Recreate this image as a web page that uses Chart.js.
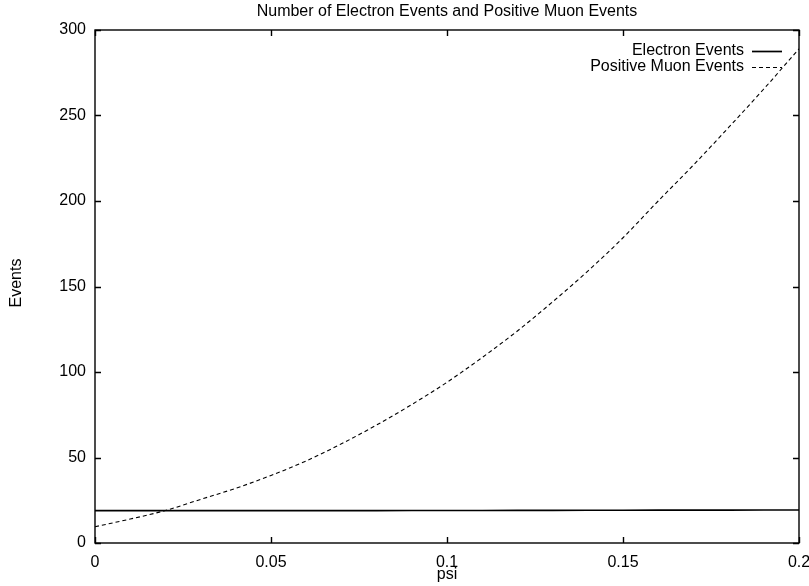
<!DOCTYPE html>
<html>
<head>
<meta charset="utf-8">
<script src="https://cdn.jsdelivr.net/npm/chart.js@4/dist/chart.umd.min.js"></script>
<style>
  html, body { margin: 0; padding: 0; background: #fff; }
  canvas { display: block; }
</style>
</head>
<body>
<canvas id="c" width="809" height="586"></canvas>
<script>
// psi values sampled along the x axis
const psi = [0, 0.01, 0.02, 0.03, 0.04, 0.05, 0.06, 0.07, 0.08, 0.09, 0.1,
             0.11, 0.12, 0.13, 0.14, 0.15, 0.16, 0.17, 0.18, 0.19, 0.2];
// number of electron events at each psi
const electronEvents = [18.9, 18.9, 18.9, 18.9, 18.9, 18.95, 18.95, 18.95, 18.95, 19.0, 19.0,
                        19.0, 19.05, 19.1, 19.15, 19.15, 19.2, 19.2, 19.25, 19.3, 19.3];
// number of positive muon events at each psi
const muonEvents = [9.5, 14, 19, 25.5, 32, 39.5, 48, 58, 69, 81, 94,
                    108.5, 124, 141, 159, 178.5, 200, 221, 243, 265.5, 289];
const xTicks = [0, 0.05, 0.1, 0.15, 0.2];
const yTicks = [0, 50, 100, 150, 200, 250, 300];
const seriesNames = ['Electron Events', 'Positive Muon Events'];

const FONT = 'Liberation Sans, Arial, Helvetica, sans-serif';

// frame, inward tick marks, title, axis titles and key drawn on top of the plot
const gnuplotFrame = {
  id: 'gnuplotFrame',
  afterDraw(chart) {
    const { ctx, chartArea: a, scales } = chart;
    const xs = scales.x, ys = scales.y;
    ctx.save();
    ctx.strokeStyle = '#000';
    ctx.lineWidth = 1.4;
    ctx.strokeRect(a.left, a.top, a.right - a.left, a.bottom - a.top);
    const tl = 6;
    ctx.beginPath();
    xTicks.forEach(v => {
      const px = Math.round(xs.getPixelForValue(v)) + 0.5;
      ctx.moveTo(px, a.bottom); ctx.lineTo(px, a.bottom - tl);
      ctx.moveTo(px, a.top); ctx.lineTo(px, a.top + tl);
    });
    yTicks.forEach(v => {
      const py = Math.round(ys.getPixelForValue(v)) + 0.5;
      ctx.moveTo(a.left, py); ctx.lineTo(a.left + tl, py);
      ctx.moveTo(a.right, py); ctx.lineTo(a.right - tl, py);
    });
    ctx.stroke();

    ctx.fillStyle = '#000';
    ctx.font = '16px ' + FONT;
    ctx.textAlign = 'center';
    ctx.textBaseline = 'middle';
    ctx.fillText('Number of Electron Events and Positive Muon Events', (a.left + a.right) / 2, 12);
    ctx.fillText('psi', (a.left + a.right) / 2, 575);
    ctx.save();
    ctx.translate(17, 283);
    ctx.rotate(-Math.PI / 2);
    ctx.fillText('Events', 0, 0);
    ctx.restore();

    // key in the upper right corner
    ctx.textAlign = 'right';
    const keyY = [51, 67];
    chart.data.datasets.forEach((ds, i) => {
      ctx.fillText(seriesNames[i], 744, keyY[i]);
      ctx.beginPath();
      ctx.lineWidth = ds.borderWidth;
      ctx.setLineDash(ds.borderDash || []);
      ctx.moveTo(752, keyY[i] + 0.5);
      ctx.lineTo(782, keyY[i] + 0.5);
      ctx.stroke();
    });
    ctx.restore();
  }
};

new Chart(document.getElementById('c'), {
  type: 'line',
  data: {
    datasets: [
      {
        label: seriesNames[0],
        data: psi.map((x, i) => ({ x, y: electronEvents[i] })),
        borderColor: '#000',
        borderWidth: 1.7,
        pointRadius: 0,
        tension: 0
      },
      {
        label: seriesNames[1],
        data: psi.map((x, i) => ({ x, y: muonEvents[i] })),
        borderColor: '#000',
        borderWidth: 1.1,
        borderDash: [4, 3],
        pointRadius: 0,
        cubicInterpolationMode: 'monotone'
      }
    ]
  },
  options: {
    responsive: false,
    devicePixelRatio: 1,
    animation: false,
    layout: { padding: { top: 30, right: 10, left: 0, bottom: 0 } },
    plugins: { legend: { display: false }, title: { display: false }, tooltip: { enabled: false } },
    scales: {
      x: {
        type: 'linear',
        min: 0, max: 0.2,
        afterBuildTicks: s => { s.ticks = xTicks.map(v => ({ value: v })); },
        afterFit: s => { s.height = 43; s.paddingLeft = 0; s.paddingRight = 0; },
        grid: { display: false, drawTicks: false },
        border: { display: false },
        ticks: {
          color: '#000', padding: 10,
          font: { family: FONT, size: 16 },
          maxRotation: 0,
          callback: v => String(v)
        }
      },
      y: {
        type: 'linear',
        min: 0, max: 300,
        afterBuildTicks: s => { s.ticks = yTicks.map(v => ({ value: v })); },
        afterFit: s => { s.width = 95; s.paddingTop = 0; s.paddingBottom = 0; },
        grid: { display: false, drawTicks: false },
        border: { display: false },
        ticks: {
          color: '#000', padding: 9,
          font: { family: FONT, size: 16 },
          callback: v => String(v)
        }
      }
    }
  },
  plugins: [gnuplotFrame]
});
</script>
</body>
</html>
